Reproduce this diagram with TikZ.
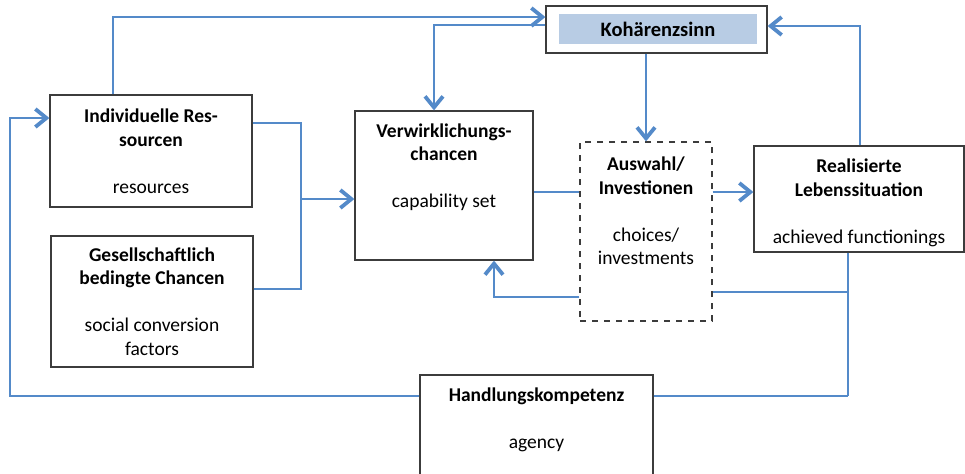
\documentclass[tikz,border=0pt]{standalone}
\usepackage{fontspec}
\setmainfont{Carlito}
\usetikzlibrary{arrows.meta}
\definecolor{flowblue}{RGB}{84,138,201}
\definecolor{fillblue}{RGB}{184,204,228}
\definecolor{boxgray}{RGB}{60,60,60}
\begin{document}
\begin{tikzpicture}[line cap=butt,line join=miter,x=0.5pt,y=-0.5pt,
	>={Straight Barb[length=5.5pt,width=9pt,line width=1.9pt]},
	box/.style={draw=boxgray,line width=0.65pt,fill=white,align=center,inner sep=0pt,
		font=\fontsize{9.75}{11.75}\selectfont},
	txt/.style={align=center,inner sep=0pt,font=\fontsize{9.75}{11.75}\selectfont},
	flow/.style={draw=flowblue,line width=0.8pt}]
		\useasboundingbox (0,0) rectangle (965,473);
		\clip (0,0) rectangle (965,473);
		% boxes
		\node[box,minimum width=110.5pt,minimum height=23.5pt] (koh) at (656.5,29.5) {};
		\node[fill=fillblue,minimum width=99pt,minimum height=15pt,inner sep=0pt,
			font=\fontsize{10.25}{12}\selectfont\bfseries] (kohfill) at (658,29) {Kohärenzsinn};
		\node[box,minimum width=101pt,minimum height=56pt] (ind) at (151,151)
			{\textbf{Individuelle Res-}\\\textbf{sourcen}\\[11.75pt]resources};
		\node[box,minimum width=101pt,minimum height=65.5pt] (ges) at (152,301.5)
			{\textbf{Gesellschaftlich}\\\textbf{bedingte Chancen}\\[11.75pt]social conversion\\factors};
		\node[box,minimum width=89pt,minimum height=74.5pt] (ver) at (444,185.5) {};
		\node[txt] (vertext) at (444,167) {\textbf{Verwirklichungs-}\\\textbf{chancen}\\[11.75pt]capability set};
		\node[box,dashed,minimum width=66pt,minimum height=89.5pt] (aus) at (646,231.5) {};
		\node[txt] (austext) at (646,211) {\textbf{Auswahl/}\\\textbf{Investionen}\\[11.75pt]choices/\\investments};
		\node[box,minimum width=105pt,minimum height=53pt] (rea) at (859,199) {};
		\node[txt] (reatext) at (859,203) {\textbf{Realisierte}\\\textbf{Lebenssituation}\\[11.75pt]achieved functionings};
		\node[box,minimum width=116.5pt,minimum height=62.5pt] (han) at (536.5,437.5) {};
		\node[txt] (hantext) at (536.5,420) {\textbf{Handlungskompetenz}\\[11.75pt]agency};
		% junctions
		\coordinate (j1) at (301,199);
		\coordinate (j2) at (848,396);
		% connectors
		\draw[flow,->] (ind.north -| 113,0) |- (koh.west |- 0,17);
		\draw[flow,->] (koh.west |- 0,25) -| (ver.north -| 434,0);
		\draw[flow,->] (koh.south -| 646,0) -- (aus.north -| 646,0);
		\draw[flow,->] (rea.north -| 860,0) |- (koh.east |- 0,26);
		\draw[flow] (ind.east |- 0,123) -| (j1);
		\draw[flow] (ges.east |- 0,289) -| (j1);
		\draw[flow,->] (j1) -- (ver.west |- j1);
		\draw[flow] (ver.east |- 0,192) -- (aus.west |- 0,192);
		\draw[flow,->] (aus.east |- 0,192) -- (rea.west |- 0,192);
		\draw[flow,->] (aus.west |- 0,297) -| (ver.south -| 494,0);
		\draw[flow] (rea.south -| j2) -- (j2);
		\draw[flow] (aus.east |- 0,292) -| (j2);
		\draw[flow] (han.east |- j2) -- (j2);
		\draw[flow,->] (han.west |- j2) -| (10,118) -- (ind.west |- 0,118);
	\end{tikzpicture}
\end{document}
